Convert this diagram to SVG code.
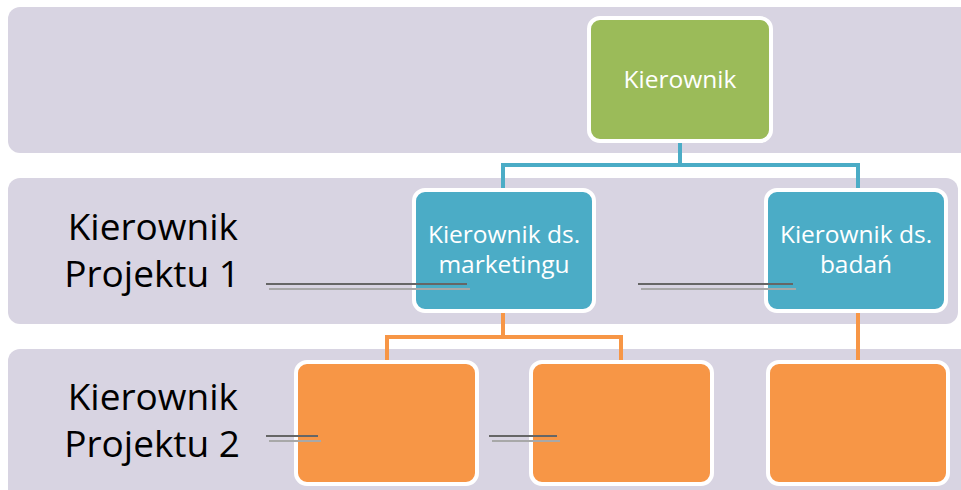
<svg xmlns="http://www.w3.org/2000/svg" width="961" height="490" viewBox="0 0 961 490">
  <style>
    .band { fill: #D8D4E2; }
    .box { stroke: #FFFFFF; stroke-width: 4; }
    .green { fill: #9BBB59; }
    .blue { fill: #4BACC6; }
    .orange { fill: #F79646; }
    .boxtext { font-family: "Open Sans", "DejaVu Sans", sans-serif; font-size: 24.5px; fill: #FFFFFF; text-anchor: middle; }
    .rowlabel { font-family: "Open Sans", "DejaVu Sans", sans-serif; font-size: 37px; fill: #000000; text-anchor: end; }
    .c-blue { fill: none; stroke: #4BACC6; stroke-width: 4; }
    .c-orange { fill: none; stroke: #F79646; stroke-width: 4; }
    .rule-dark { stroke: #666666; stroke-width: 2; }
    .rule-light { stroke: #A8A8A8; stroke-width: 2; }
  </style>

  <rect width="961" height="490" fill="#FFFFFF"/>

  <!-- hierarchy level bands -->
  <g id="bands">
    <rect class="band" x="8" y="7" width="970" height="146" rx="12"/>
    <rect class="band" x="8" y="178" width="950" height="146" rx="12"/>
    <rect class="band" x="8" y="349" width="970" height="160" rx="12"/>
  </g>

  <!-- level labels -->
  <g id="label-level2">
    <text class="rowlabel" x="238" y="240">Kierownik</text>
    <text class="rowlabel" x="240" y="287">Projektu 1</text>
  </g>
  <g id="label-level3">
    <text class="rowlabel" x="238" y="410">Kierownik</text>
    <text class="rowlabel" x="240" y="457">Projektu 2</text>
  </g>

  <!-- connectors -->
  <g id="connectors">
    <path class="c-blue" d="M680 143 V165 M503 190 V165 H858 V190"/>
    <path class="c-orange" d="M503 312 V337 M387 360 V337 H621 V360"/>
    <path class="c-orange" d="M858 313 V360"/>
  </g>

  <!-- nodes -->
  <g id="node-kierownik">
    <rect class="box green" x="589" y="18" width="182" height="123" rx="11"/>
    <text class="boxtext" x="680" y="88">Kierownik</text>
  </g>
  <g id="node-marketing">
    <rect class="box blue" x="414" y="190" width="180" height="121" rx="11"/>
    <text class="boxtext"><tspan x="504" y="243">Kierownik ds.</tspan><tspan x="504" y="273">marketingu</tspan></text>
  </g>
  <g id="node-badania">
    <rect class="box blue" x="766" y="190" width="180" height="121" rx="11"/>
    <text class="boxtext"><tspan x="856" y="243">Kierownik ds.</tspan><tspan x="856" y="273">badań</tspan></text>
  </g>
  <g id="node-o1">
    <rect class="box orange" x="296" y="362" width="181" height="122" rx="11"/>
  </g>
  <g id="node-o2">
    <rect class="box orange" x="531" y="362" width="181" height="122" rx="11"/>
  </g>
  <g id="node-o3">
    <rect class="box orange" x="768" y="362" width="180" height="122" rx="11"/>
  </g>

  <!-- double rules -->
  <g id="rules">
    <line class="rule-dark" x1="266" y1="284" x2="467" y2="284"/>
    <line class="rule-light" x1="269" y1="289" x2="470" y2="289"/>
    <line class="rule-dark" x1="638" y1="284" x2="793" y2="284"/>
    <line class="rule-light" x1="641" y1="289" x2="796" y2="289"/>
    <line class="rule-dark" x1="266" y1="436" x2="318" y2="436"/>
    <line class="rule-light" x1="269" y1="441" x2="321" y2="441"/>
    <line class="rule-dark" x1="489" y1="436" x2="557" y2="436"/>
    <line class="rule-light" x1="492" y1="441" x2="560" y2="441"/>
  </g>
</svg>
